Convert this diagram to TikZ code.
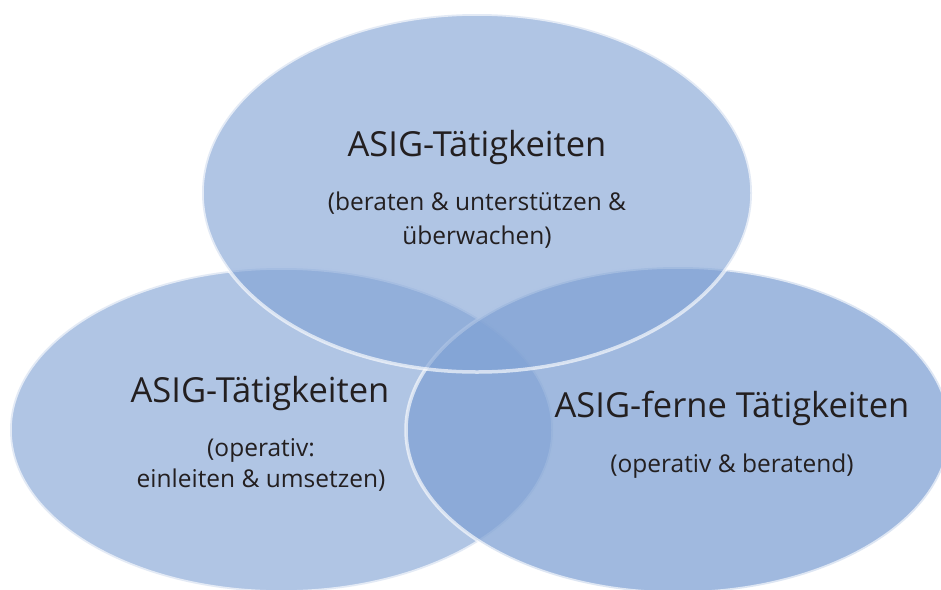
\documentclass[tikz,border=0pt]{standalone}
\usepackage{fontspec}
\setmainfont{Open Sans}
\definecolor{vennblue}{RGB}{127,161,212}
\definecolor{txt}{RGB}{35,31,32}
\tikzset{
  venn/.style={ellipse, inner sep=0pt, outer sep=0pt, fill=vennblue, fill opacity=0.62,
    draw=white, draw opacity=0.65, line width=3.5pt},
  title/.style={anchor=base, text=txt, font=\fontsize{34.5}{40}\selectfont, inner sep=0pt},
  sub/.style={anchor=base, text=txt, font=\fontsize{24.5}{29}\selectfont, inner sep=0pt}
}
\usetikzlibrary{shapes.geometric}
\begin{document}
\begin{tikzpicture}[x=1pt,y=-1pt]
\useasboundingbox (0,0) rectangle (941,589);
% ellipses
\node[venn, minimum width=543pt, minimum height=324pt] (left) at (281.5,430) {};
\node[venn, fill opacity=0.74, minimum width=544pt, minimum height=326pt] (right) at (678,430) {};
\node[venn, minimum width=550pt, minimum height=358pt] (top) at (477,193) {};
% texts
\node[title] (t1) at (477,156) {ASIG-Tätigkeiten};
\node[sub] (t1a) at (477,210) {(beraten \& unterstützen \&};
\node[sub] (t1b) at (477,244) {überwachen)};
\node[title] (t2) at (260,402) {ASIG-Tätigkeiten};
\node[sub] (t2a) at (261,456) {(operativ:};
\node[sub] (t2b) at (261,487) {einleiten \& umsetzen)};
\node[title] (t3) at (732,417) {ASIG-ferne Tätigkeiten};
\node[sub] (t3a) at (732,472) {(operativ \& beratend)};
\end{tikzpicture}
\end{document}
